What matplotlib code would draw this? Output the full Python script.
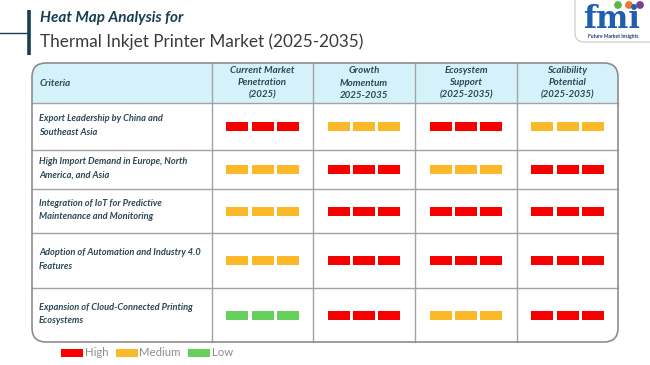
import matplotlib.pyplot as plt
from matplotlib.patches import FancyBboxPatch, Rectangle, Circle

plt.rcParams["font.family"] = ["Lato", "DejaVu Sans"]

# ---- data ----
CRITERIA = [
    "Export Leadership by China and\nSoutheast Asia",
    "High Import Demand in Europe, North\nAmerica, and Asia",
    "Integration of IoT for Predictive\nMaintenance and Monitoring",
    "Adoption of Automation and Industry 4.0\nFeatures",
    "Expansion of Cloud-Connected Printing\nEcosystems",
]
COLUMNS = [
    "Current Market\nPenetration\n(2025)",
    "Growth\nMomentum\n2025-2035",
    "Ecosystem\nSupport\n(2025-2035)",
    "Scalibility\nPotential\n(2025-2035)",
]
LEVELS = [
    ["High", "Medium", "High", "Medium"],
    ["Medium", "High", "Medium", "High"],
    ["Medium", "High", "High", "High"],
    ["Medium", "High", "High", "High"],
    ["Low", "High", "Medium", "High"],
]
LEGEND = ["High", "Medium", "Low"]

COLORS = {"High": "#f70000", "Medium": "#fbb829", "Low": "#66d05c"}
HEADER_BG = "#d5f2fa"
GRID = "#a3a3a3"
TEXT = "#2b4753"
TITLE = "#173f51"

# ---- layout (pixel coordinates) ----
W, H = 650, 365
LEFT, RIGHT, TOP, BOTTOM = 32, 618, 63, 342
HEADER_BOTTOM = 103
COL_EDGES = [212, 313, 415, 517, RIGHT]
ROW_EDGES = [HEADER_BOTTOM, 150, 189, 233, 288, BOTTOM]
BAR_W, BAR_GAP, BAR_H = 22, 3.2, 9

fig = plt.figure(figsize=(6.5, 3.65), dpi=100)
ax = fig.add_axes([0, 0, 1, 1])
ax.set_xlim(0, W)
ax.set_ylim(H, 0)
ax.axis("off")

# title block
ax.plot([0, 28], [33, 33], color=TITLE, lw=1.0)
ax.plot([29, 29], [10, 55], color=TITLE, lw=2.6, solid_capstyle="butt")
ax.text(40, 18, "Heat Map Analysis for", fontsize=11, fontweight="bold",
        fontstyle="italic", color=TITLE, va="center")
ax.text(40, 42, "Thermal Inkjet Printer Market (2025-2035)", fontsize=12.3,
        color="#3a3a3a", va="center")

# logo
logo = FancyBboxPatch((575, -20), 95, 62, boxstyle="round,pad=0,rounding_size=9",
                      facecolor="white", edgecolor="#c8c8c8", lw=0.8)
ax.add_patch(logo)
ax.text(612, 19, "fmi", fontsize=22, fontweight="bold", color="#1f5fae",
        family="DejaVu Serif", ha="center", va="center")
for cx, c in zip([618, 629, 640], ["#5bb648", "#f0772b", "#7b3f98"]):
    ax.add_patch(Circle((cx, 5), 3.2, color=c))
ax.text(613, 36.5, "Future Market Insights", fontsize=3.6, color="#1f3f70",
        ha="center", va="center", fontweight="bold")

# table frame
frame = FancyBboxPatch((LEFT, TOP), RIGHT - LEFT, BOTTOM - TOP,
                       boxstyle="round,pad=0,rounding_size=14",
                       facecolor="white", edgecolor="none", zorder=1)
ax.add_patch(frame)
header = Rectangle((LEFT, TOP), RIGHT - LEFT, HEADER_BOTTOM - TOP,
                   facecolor=HEADER_BG, edgecolor="none", zorder=2)
ax.add_patch(header)
header.set_clip_path(frame)

for x in COL_EDGES[:-1]:
    ax.plot([x, x], [TOP, BOTTOM], color=GRID, lw=1.0, zorder=3)
for y in ROW_EDGES[:-1]:
    ax.plot([LEFT, RIGHT], [y, y], color=GRID, lw=1.0, zorder=3)
border = FancyBboxPatch((LEFT, TOP), RIGHT - LEFT, BOTTOM - TOP,
                        boxstyle="round,pad=0,rounding_size=14",
                        facecolor="none", edgecolor="#8d8d8d", lw=1.2, zorder=4)
ax.add_patch(border)

# header labels
hy = (TOP + HEADER_BOTTOM) / 2
ax.text(LEFT + 8, hy, "Criteria", fontsize=7, fontweight="bold", fontstyle="italic",
        color=TEXT, va="center", zorder=5)
for i, label in enumerate(COLUMNS):
    cx = (COL_EDGES[i] + COL_EDGES[i + 1]) / 2
    ax.text(cx, hy, label, fontsize=7, fontweight="bold", fontstyle="italic",
            color=TEXT, ha="center", va="center", linespacing=1.45, zorder=5)

# rows
for r, crit in enumerate(CRITERIA):
    cy = (ROW_EDGES[r] + ROW_EDGES[r + 1]) / 2
    ax.text(LEFT + 7, cy - 1, crit, fontsize=6.7, fontweight="bold", fontstyle="italic",
            color=TEXT, va="center", linespacing=1.6, zorder=5)
    for c, level in enumerate(LEVELS[r]):
        cx = (COL_EDGES[c] + COL_EDGES[c + 1]) / 2
        total = 3 * BAR_W + 2 * BAR_GAP
        x0 = cx - total / 2
        for k in range(3):
            ax.add_patch(Rectangle((x0 + k * (BAR_W + BAR_GAP), cy - BAR_H / 2),
                                   BAR_W, BAR_H, facecolor=COLORS[level],
                                   edgecolor="none", zorder=5))

# legend
lx = 61
for name in LEGEND:
    ax.add_patch(Rectangle((lx, 349), 22, 8, facecolor=COLORS[name], edgecolor="none"))
    t = ax.text(lx + 24, 353, name, fontsize=8.2, color="#8c8c8c", va="center")
    fig.canvas.draw()
    bb = t.get_window_extent().transformed(ax.transData.inverted())
    lx = bb.x1 + 7

fig.savefig("out.png", dpi=100)
